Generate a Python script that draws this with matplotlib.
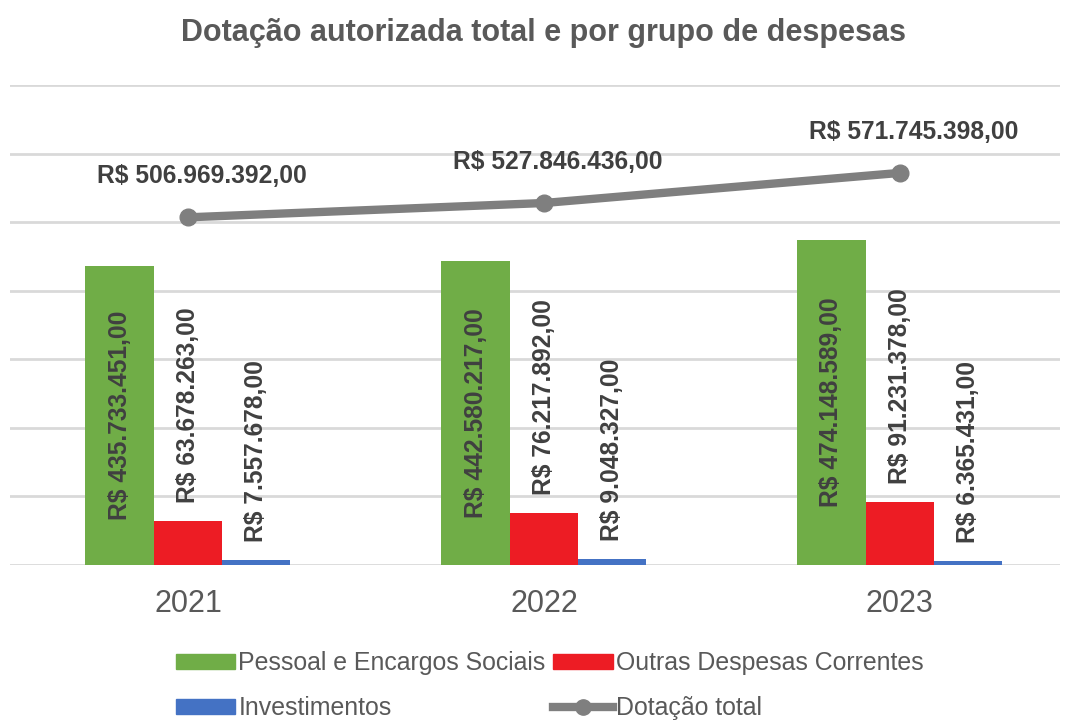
import matplotlib
matplotlib.use("Agg")
import matplotlib.pyplot as plt
from matplotlib.lines import Line2D
from matplotlib.patches import Patch
import numpy as np

plt.rcParams['font.family'] = ['Liberation Sans', 'DejaVu Sans']

years = ["2021", "2022", "2023"]
pessoal = [435733451, 442580217, 474148589]
outras = [63678263, 76217892, 91231378]
invest = [7557678, 9048327, 6365431]
total = [506969392, 527846436, 571745398]
series_names = ["Pessoal e Encargos Sociais", "Outras Despesas Correntes", "Investimentos", "Dotação total"]

def brl(v):
    s = f"{v:,}".replace(",", ".")
    return f"R$ {s},00"

fig = plt.figure(figsize=(10.67, 7.2), dpi=100)
ax = fig.add_axes([0.0094, 0.2153, 0.984, 0.6667])

x = np.arange(len(years))
w = 0.192
colors = ["#70ad47", "#ed1c24", "#4472c4"]
txtc = "#404040"

for i in range(1, 8):
    ax.axhline(i * 100e6, color="#d9d9d9", lw=2, zorder=0)
ax.axhline(0, color="#d9d9d9", lw=2, zorder=0)

b1 = ax.bar(x - w, pessoal, w, color=colors[0], zorder=2)
b2 = ax.bar(x, outras, w, color=colors[1], zorder=2)
b3 = ax.bar(x + w, invest, w, color=colors[2], zorder=2)

fs = 17.7
for r, v in zip(b1, pessoal):
    ax.text(r.get_x() + r.get_width() / 2, v / 2, brl(v), rotation=90,
            ha="center", va="center", fontsize=fs, fontweight="bold", color=txtc, zorder=3)
for bars, vals in ((b2, outras), (b3, invest)):
    for r, v in zip(bars, vals):
        ax.annotate(brl(v), (r.get_x() + r.get_width() / 2, v), xytext=(0, 18),
                    textcoords="offset pixels", rotation=90, ha="center", va="bottom",
                    fontsize=fs, fontweight="bold", color=txtc, zorder=3)

ax.plot(x, total, color="#7f7f7f", lw=6, marker="o", markersize=12, zorder=4,
        solid_capstyle="round")
for xi, v in zip(x, total):
    ax.annotate(brl(v), (xi, v), xytext=(14, 41), textcoords="offset pixels",
                ha="center", va="center", fontsize=fs, fontweight="bold", color=txtc)

ax.set_ylim(0, 700e6)
ax.set_xlim(-0.5, 2.45)
ax.set_yticks([])
ax.set_xticks(x)
ax.set_xticklabels(years, fontsize=22, color="#595959")
ax.tick_params(axis="x", length=0, pad=17)
for s in ax.spines.values():
    s.set_visible(False)

fig.suptitle("Dotação autorizada total e por grupo de despesas", x=0.509, y=0.975,
             fontsize=22, fontweight="bold", color="#595959")

handles = [Patch(color=colors[0]), Patch(color=colors[1]), Patch(color=colors[2]),
           Line2D([], [], color="#7f7f7f", lw=6, marker="o", markersize=11)]
order = [0, 2, 1, 3]
fig.legend([handles[i] for i in order], [series_names[i] for i in order],
           loc="lower center", bbox_to_anchor=(0.515, -0.031), ncol=2, frameon=False,
           fontsize=17.9, labelcolor="#595959", handlelength=2.4, handleheight=0.55,
           handletextpad=0.12, columnspacing=0.3, labelspacing=0.84)

fig.savefig("out.png", dpi=100)
